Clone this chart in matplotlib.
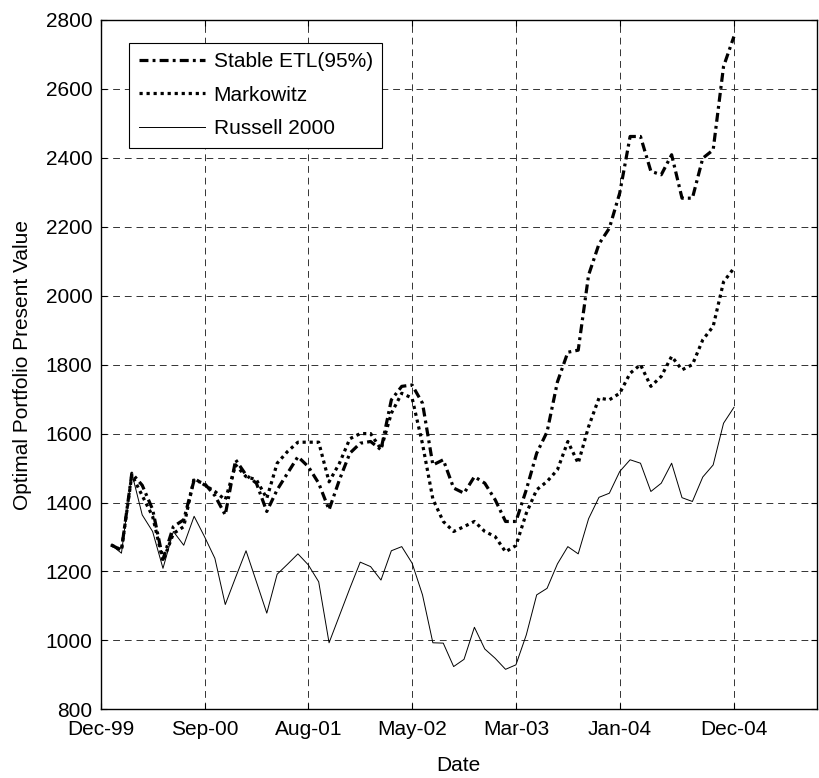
import numpy as np
import matplotlib
matplotlib.use('Agg')
import matplotlib.pyplot as plt

plt.rcParams['font.family'] = ['Liberation Sans', 'DejaVu Sans']

# monthly observations, index 1..61
etl = [1277, 1262, 1485, 1450, 1380, 1235, 1330, 1350, 1465, 1455,
       1420, 1364, 1524, 1480, 1456, 1374, 1437, 1485, 1533, 1504,
       1456, 1379, 1466, 1543, 1572, 1577, 1553, 1698, 1737, 1741,
       1688, 1509, 1524, 1442, 1427, 1475, 1456, 1408, 1345, 1345,
       1437, 1543, 1605, 1750, 1836, 1842, 2060, 2150, 2196, 2298,
       2462, 2462, 2361, 2351, 2409, 2283, 2283, 2399, 2423, 2665,
       2752]
markowitz = [1277, 1262, 1480, 1420, 1360, 1230, 1310, 1330, 1470, 1451,
             1432, 1408, 1509, 1475, 1466, 1412, 1514, 1548, 1575, 1575,
             1575, 1460, 1514, 1585, 1600, 1600, 1555, 1659, 1717, 1703,
             1570, 1410, 1345, 1316, 1330, 1345, 1316, 1301, 1257, 1275,
             1369, 1437, 1461, 1495, 1577, 1514, 1620, 1703, 1698, 1717,
             1775, 1800, 1737, 1766, 1824, 1785, 1800, 1872, 1911, 2040,
             2080]
russell = [1277, 1253, 1485, 1364, 1316, 1209, 1316, 1276, 1360, 1301,
           1238, 1104, 1183, 1260, 1170, 1079, 1192, 1221, 1251, 1219,
           1170, 993, 1072, 1151, 1227, 1214, 1175, 1260, 1272, 1224,
           1132, 993, 992, 924, 945, 1038, 975, 948, 916, 929,
           1016, 1132, 1151, 1222, 1272, 1251, 1353, 1415, 1427, 1490,
           1524, 1514, 1432, 1456, 1514, 1414, 1403, 1474, 1509, 1630,
           1676]
tick_pos = [0, 10, 20, 30, 40, 50, 61]
tick_labels = ['Dec-99', 'Sep-00', 'Aug-01', 'May-02', 'Mar-03', 'Jan-04', 'Dec-04']

x = np.arange(1, len(etl) + 1)

fig = plt.figure(figsize=(8.2, 7.78), dpi=100)
ax = fig.add_axes([0.1228, 0.0883, 0.9963 - 0.1228, 0.9743 - 0.0883])

ax.plot(x, etl, color='k', lw=2.3, linestyle=(0, (2.8, 1.3, 0.9, 1.3)),
        label='Stable ETL(95%)')
ax.plot(x, markowitz, color='k', lw=2.3, linestyle=(0, (1, 1.2)),
        label='Markowitz')
ax.plot(x, russell, color='k', lw=0.7, label='Russell 2000')

ax.set_xlim(0, 69)
ax.set_ylim(800, 2800)
ax.set_xticks(tick_pos)
ax.set_xticklabels(tick_labels)
ax.set_yticks(np.arange(800, 2801, 200))
ax.tick_params(direction='in', length=4, labelsize=15, top=True, right=True,
               pad=8, width=0.8)
ax.tick_params(axis='y', pad=6)
ax.grid(True, color='#333333', linestyle=(0, (7, 5)), lw=0.7)
for s in ax.spines.values():
    s.set_linewidth(1.0)

ax.set_xlabel('Date', fontsize=15, labelpad=12)
ax.set_ylabel('Optimal Portfolio Present Value', fontsize=15, labelpad=10)

leg = ax.legend(loc='upper left', bbox_to_anchor=(0.04, 0.967), fontsize=15,
                frameon=True, fancybox=False, edgecolor='k', framealpha=1,
                handlelength=3.2, handletextpad=0.4, labelspacing=0.7,
                borderpad=0.45, borderaxespad=0)
leg.get_frame().set_linewidth(0.8)

fig.savefig('out.png', dpi=100)
